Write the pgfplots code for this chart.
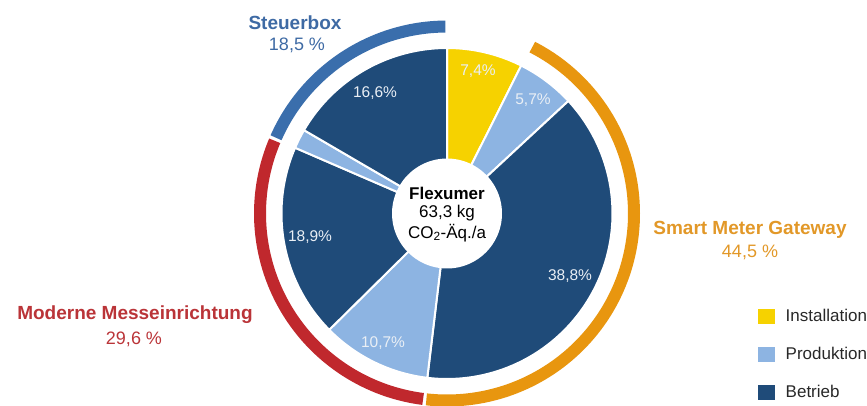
\documentclass[border=0pt]{standalone}
\usepackage{pgfplots}
\pgfplotsset{compat=1.18}
\usepackage{fontspec}
\setmainfont{Liberation Sans}
\definecolor{dblue}{RGB}{31,75,121}
\definecolor{lblue}{RGB}{141,180,226}
\definecolor{yel}{RGB}{246,210,0}
\definecolor{ora}{RGB}{232,150,15}
\definecolor{rred}{RGB}{192,40,45}
\definecolor{sblue}{RGB}{58,110,172}
\definecolor{otxt}{RGB}{226,152,40}
\definecolor{rtxt}{RGB}{186,52,56}
\definecolor{stxt}{RGB}{62,106,164}
\definecolor{wtxt}{RGB}{234,239,245}
\definecolor{ltxt}{RGB}{40,40,40}
\def\cx{447}
\def\cy{213.5}
% slice: start %, end %, colour
\newcommand{\slice}[3]{%
  \addplot[fill=#3, draw=white, line width=2pt, domain={3.6*#1}:{3.6*#2}, samples=80, variable=\t, forget plot]
    ({\cx+165.5*sin(\t)},{\cy-165.5*cos(\t)}) -- (\cx,\cy) -- cycle;}
% ring: start %, end %, colour
\newcommand{\ring}[3]{%
  \addplot[draw=#3, line width=12pt, domain={3.6*#1+0.5}:{3.6*#2-0.5}, samples=100, variable=\t, forget plot]
    ({\cx+187*sin(\t)},{\cy-187*cos(\t)});}
\newcommand{\fs}[1]{\fontsize{#1}{#1}\selectfont}
\begin{document}
\begin{tikzpicture}
\begin{axis}[name=ax, scale only axis, width=867pt, height=405pt,
  xmin=0, xmax=867, ymin=0, ymax=405, y dir=reverse, hide axis, clip=true,
  legend image code/.code={\fill[#1, draw=none] (0pt,-8.5pt) rectangle (16.5pt,6.5pt);},
  legend style={at={(axis cs:758,309)}, anchor=north west, draw=none, fill=none,
    inner sep=0pt, row sep=23pt, column sep=11pt, font=\fs{17}, text=ltxt,
    nodes={inner sep=0pt, text depth=0pt}},
  legend cell align=left]
% inner pie (percent of total)
\slice{0}{7.4}{yel}
\slice{7.4}{13.1}{lblue}
\slice{13.1}{51.9}{dblue}
\slice{51.9}{62.6}{lblue}
\slice{62.6}{81.5}{dblue}
\slice{81.5}{83.4}{lblue}
\slice{83.4}{100}{dblue}
% outer ring (groups)
\ring{7.4}{51.9}{ora}
\ring{51.9}{81.5}{rred}
\ring{81.5}{100}{sblue}
% centre hole
\addplot[fill=white, draw=none, domain=0:360, samples=120, variable=\t, forget plot]
  ({\cx+55*sin(\t)},{\cy-55*cos(\t)}) -- cycle;
\addlegendimage{fill=yel}\addlegendentry{Installation}
\addlegendimage{fill=lblue}\addlegendentry{Produktion}
\addlegendimage{fill=dblue}\addlegendentry{Betrieb}
% slice labels
\begin{scope}[every node/.style={text=wtxt, font=\fs{15.5}}]
\node at (axis cs:478,71) {7,4\%};
\node at (axis cs:533,100) {5,7\%};
\node at (axis cs:375,93) {16,6\%};
\node at (axis cs:310,237) {18,9\%};
\node at (axis cs:570,276) {38,8\%};
\node at (axis cs:383,343) {10,7\%};
\end{scope}
% centre text
\node[font=\bfseries\fs{17}] at (axis cs:447,193) {Flexumer};
\node[font=\fs{17}] at (axis cs:447,213) {63,3 kg};
\node[font=\fs{17}] at (axis cs:447,233) {CO\textsubscript{2}-Äq./a};
% group labels
\node[font=\bfseries\fs{19}, text=stxt] at (axis cs:295,23) {Steuerbox};
\node[font=\fs{18}, text=stxt] at (axis cs:297,45) {18,5 \%};
\node[font=\bfseries\fs{19}, text=otxt] at (axis cs:750,230) {Smart Meter Gateway};
\node[font=\fs{18}, text=otxt] at (axis cs:750,252) {44,5 \%};
\node[font=\bfseries\fs{19}, text=rtxt] at (axis cs:135,315) {Moderne Messeinrichtung};
\node[font=\fs{18}, text=rtxt] at (axis cs:134,339) {29,6 \%};
\end{axis}
\pgfresetboundingbox
\path[use as bounding box] (ax.south west) rectangle (ax.north east);
\end{tikzpicture}
\end{document}
